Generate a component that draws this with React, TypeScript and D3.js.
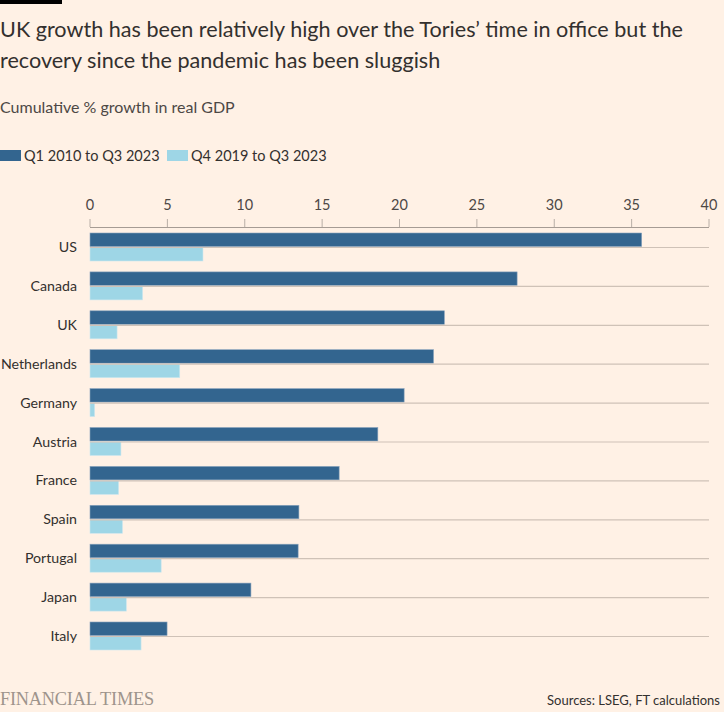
import React from "react";
import * as d3 from "d3";

const countries = ["US", "Canada", "UK", "Netherlands", "Germany", "Austria", "France", "Spain", "Portugal", "Japan", "Italy"];
const seriesNames = ["Q1 2010 to Q3 2023", "Q4 2019 to Q3 2023"];
const since2010 = [35.65, 27.6, 22.9, 22.2, 20.3, 18.6, 16.1, 13.5, 13.45, 10.4, 4.98];
const since2019 = [7.3, 3.4, 1.75, 5.8, 0.3, 2.0, 1.85, 2.1, 4.6, 2.35, 3.3];
const xTicks = [0, 5, 10, 15, 20, 25, 30, 35, 40];
const colors = ["#33658f", "#9ed6e6"];

const W = 724;
const H = 712;
const FONT = "Lato, sans-serif";
const TEXT = "#33302e";

export default function App() {
  const x = d3.scaleLinear().domain([0, 40]).range([90, 709]);
  const y0 = d3.scaleBand<string>().domain(countries).range([233, 650]).paddingInner(0.28).paddingOuter(0);
  const y1 = d3.scaleBand<string>().domain(seriesNames).range([0, y0.bandwidth()]).paddingInner(0.07);
  const values = [since2010, since2019];

  return (
    <svg width={W} height={H} style={{ position: "absolute", left: 0, top: 0, background: "#fff1e5" }} fontFamily={FONT}>
      <rect x={0} y={0} width={W} height={H} fill="#fff1e5" />
      <rect x={0} y={0} width={62} height={4} fill="#000" />
      <text x={0} y={37} fontSize={21.6} fill={TEXT}>UK growth has been relatively high over the Tories’ time in office but the</text>
      <text x={0} y={68} fontSize={21.6} fill={TEXT}>recovery since the pandemic has been sluggish</text>
      <text x={0} y={113} fontSize={16} fill="#4d4845">Cumulative % growth in real GDP</text>

      {seriesNames.map((s, i) => {
        const lx = i === 0 ? 0 : 167;
        return (
          <g key={s}>
            <rect x={lx} y={150} width={21} height={11} fill={colors[i]} />
            <text x={lx + 24} y={161} fontSize={14.5} fill={TEXT}>{s}</text>
          </g>
        );
      })}

      {xTicks.map((t) => (
        <g key={t}>
          <line x1={x(t)} x2={x(t)} y1={219} y2={227} stroke="#b8aea6" strokeWidth={1} />
          <text x={x(t)} y={210} fontSize={14.5} fill="#4d4845" textAnchor="middle">{t}</text>
        </g>
      ))}
      <line x1={x(0)} x2={x(40)} y1={227.5} y2={227.5} stroke="#a69c94" strokeWidth={1} />

      {countries.map((c, ci) => {
        const gy = y0(c)!;
        const lineY = gy + y1(seriesNames[0])! + y1.bandwidth() + 1;
        return (
          <g key={c}>
            {seriesNames.map((s, si) => (
              <rect
                key={s}
                x={x(0)}
                y={gy + y1(s)!}
                width={x(values[si][ci]) - x(0)}
                height={y1.bandwidth()}
                fill={colors[si]}
                stroke={si === 0 ? "#8aa4bd" : "#cde7ee"}
                strokeWidth={0.6}
              />
            ))}
            <line x1={x(0)} x2={x(40)} y1={lineY} y2={lineY} stroke="#cfc2b7" strokeWidth={1.2} />
            <text x={77} y={gy + y0.bandwidth() / 2 + 5} fontSize={14.2} fill={TEXT} textAnchor="end">{c}</text>
          </g>
        );
      })}

      <text x={0} y={705} fontSize={18.3} fill="#9e948c" fontFamily="'Liberation Serif', serif" letterSpacing={-0.2}>FINANCIAL TIMES</text>
      <text x={720} y={705} fontSize={13} fill={TEXT} textAnchor="end">Sources: LSEG, FT calculations</text>
    </svg>
  );
}
